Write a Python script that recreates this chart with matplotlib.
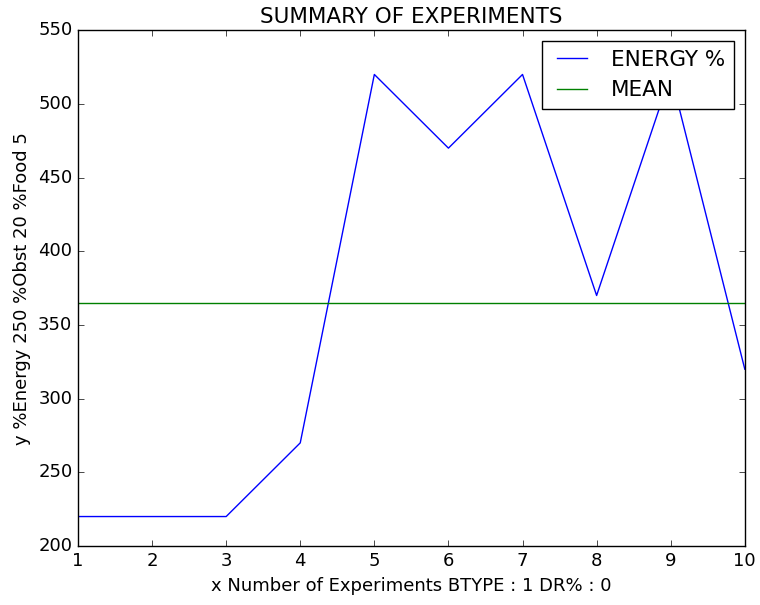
import matplotlib
matplotlib.use("Agg")
import matplotlib.pyplot as plt

# experiment results
experiments = [1, 2, 3, 4, 5, 6, 7, 8, 9, 10]
energy = [220, 220, 220, 270, 520, 470, 520, 370, 520, 320]
mean_energy = sum(energy) / len(energy)

plt.style.use('classic')
plt.rcParams['font.family'] = ['DejaVu Sans']

fig = plt.figure(figsize=(7.6, 6.05), dpi=100, facecolor='white')
ax = fig.add_axes([0.1026, 0.0975, 0.8774, 0.8525])

ax.plot(experiments, energy, 'b', label='ENERGY %')
ax.plot(experiments, [mean_energy] * len(experiments), 'g', label='MEAN')

ax.set_xlim(1, 10)
ax.set_ylim(200, 550)
ax.set_title('SUMMARY OF EXPERIMENTS', fontsize=15.5)
ax.set_xlabel('x Number of Experiments BTYPE : 1 DR% : 0', fontsize=13)
ax.set_ylabel('y %Energy 250 %Obst 20 %Food 5', fontsize=13)
ax.tick_params(labelsize=13)
ax.legend(loc='upper right', fontsize=15.5)

fig.savefig('out.png', dpi=100, facecolor='white')
